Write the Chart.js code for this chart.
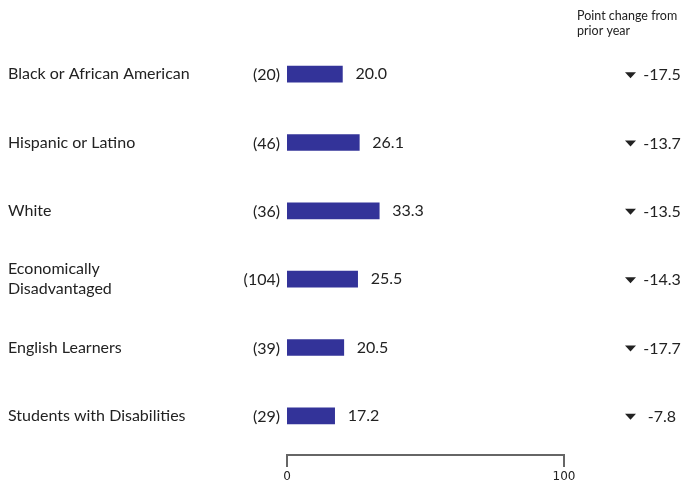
<!DOCTYPE html>
<html>
<head>
<meta charset="utf-8">
<script src="https://cdn.jsdelivr.net/npm/chart.js@4"></script>
<style>
  html, body { margin: 0; padding: 0; background: #fff; }
  canvas { display: block; }
</style>
</head>
<body>
<canvas id="chart" width="682" height="485"></canvas>
<script>
const categories = [
  ["Black or African American"],
  ["Hispanic or Latino"],
  ["White"],
  ["Economically", "Disadvantaged"],
  ["English Learners"],
  ["Students with Disabilities"]
];
const counts = [20, 46, 36, 104, 39, 29];
const values = [20.0, 26.1, 33.3, 25.5, 20.5, 17.2];
const changes = [-17.5, -13.7, -13.5, -14.3, -17.7, -7.8];
const xTicks = [0, 100];
const headerLines = ["Point change from", "prior year"];

const LABEL_FONT = "16px Lato, 'Open Sans', sans-serif";
const TEXT = "#222";

// draws category names, counts, values, change column and the bottom axis
const annotatePlugin = {
  id: "annotate",
  afterDraw(chart) {
    const { ctx } = chart;
    const x = chart.scales.x, y = chart.scales.y;
    ctx.save();
    ctx.fillStyle = TEXT;
    ctx.textBaseline = "middle";
    ctx.font = LABEL_FONT;

    categories.forEach((lines, i) => {
      const cy = y.getPixelForValue(i);
      // category name
      ctx.textAlign = "left";
      const lh = 20;
      lines.forEach((ln, k) => {
        ctx.fillText(ln, 8, cy + (k - (lines.length - 1) / 2) * lh);
      });
      // count
      ctx.textAlign = "right";
      ctx.fillText(`(${counts[i]})`, x.getPixelForValue(0) - 7, cy + 1);
      // value
      ctx.textAlign = "left";
      ctx.fillText(values[i].toFixed(1), x.getPixelForValue(values[i]) + 13, cy);
      // change column
      ctx.textAlign = "center";
      ctx.fillText(changes[i].toFixed(1), 662, cy + 1);
      ctx.beginPath();
      ctx.moveTo(625, cy - 2);
      ctx.lineTo(636, cy - 2);
      ctx.lineTo(630.5, cy + 4);
      ctx.closePath();
      ctx.fill();
    });

    // header
    ctx.font = "12.5px Lato, 'Open Sans', sans-serif";
    ctx.textAlign = "left";
    headerLines.forEach((ln, k) => ctx.fillText(ln, 577, 16 + k * 15));

    // bottom axis: bracket with legs going down
    const ay = 455;
    const x0 = x.getPixelForValue(xTicks[0]);
    const x1 = x.getPixelForValue(xTicks[xTicks.length - 1]);
    ctx.strokeStyle = "#666";
    ctx.lineWidth = 2;
    ctx.beginPath();
    ctx.moveTo(x0, ay + 12);
    ctx.lineTo(x0, ay);
    ctx.lineTo(x1, ay);
    ctx.lineTo(x1, ay + 12);
    ctx.stroke();
    ctx.font = "12px 'DejaVu Sans', sans-serif";
    ctx.textAlign = "center";
    xTicks.forEach(t => ctx.fillText(String(t), x.getPixelForValue(t), 477));
    ctx.restore();
  }
};

new Chart(document.getElementById("chart").getContext("2d"), {
  type: "bar",
  data: {
    labels: categories.map(c => c.join(" ")),
    datasets: [{
      data: values,
      backgroundColor: "#333399",
      borderWidth: 0,
      barThickness: 16
    }]
  },
  options: {
    indexAxis: "y",
    responsive: false,
    animation: false,
    layout: { padding: { left: 287, right: 118, top: 40, bottom: 35 } },
    plugins: { legend: { display: false }, tooltip: { enabled: false } },
    scales: {
      x: { min: 0, max: 100, display: false },
      y: { display: false, offset: true }
    }
  },
  plugins: [annotatePlugin]
});
</script>
</body>
</html>
